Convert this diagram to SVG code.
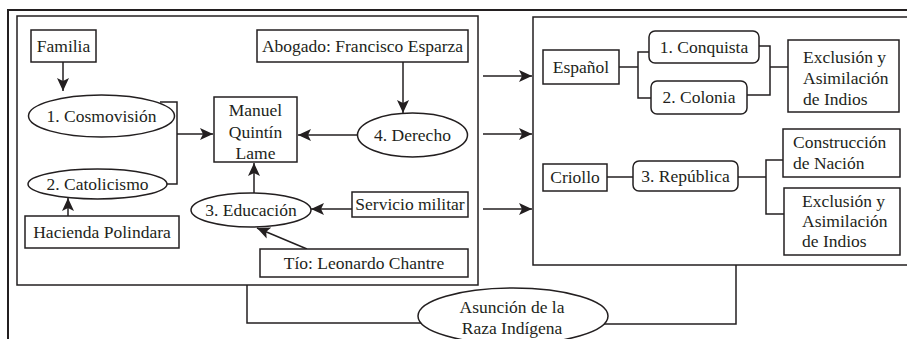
<svg xmlns="http://www.w3.org/2000/svg" width="907" height="339" viewBox="0 0 907 339">
<defs>
<marker id="ah" markerUnits="userSpaceOnUse" markerWidth="14" markerHeight="12" refX="13" refY="6" orient="auto">
<path d="M0,0 L13,6 L0,12 L3,6 Z" fill="#231f20"/>
</marker>
<style>
.b{fill:#fff;stroke:#231f20;stroke-width:1.5}
.f{fill:none;stroke:#231f20;stroke-width:2}
.c{fill:none;stroke:#231f20;stroke-width:1.5}
.a{fill:none;stroke:#231f20;stroke-width:1.5;marker-end:url(#ah)}
.t text{font-size:17.5px;fill:#231f20}
.m{text-anchor:middle}
</style>
</defs>
<rect width="907" height="339" fill="#fff"/>
<g id="frames">
<path class="f" d="M907,10 H8 V339"/>
<rect class="c" x="17" y="16" width="461" height="269" fill="none"/>
<path class="c" d="M910,17 H533 V265 H910"/>
</g>
<g id="connectors">
<line class="a" x1="63" y1="62" x2="63" y2="91"/>
<path class="c" d="M160,102 H177 V184 H164"/>
<line class="a" x1="177" y1="134" x2="213" y2="134"/>
<line class="a" x1="68" y1="216" x2="68" y2="198"/>
<line class="a" x1="403" y1="62" x2="403" y2="113"/>
<line class="a" x1="357" y1="135" x2="298" y2="135"/>
<line class="a" x1="254" y1="193" x2="254" y2="163"/>
<line class="a" x1="352" y1="209" x2="311" y2="209"/>
<line class="a" x1="307" y1="249" x2="257" y2="228"/>
<line class="a" x1="483" y1="76" x2="532" y2="76"/>
<line class="a" x1="483" y1="134" x2="532" y2="134"/>
<line class="a" x1="483" y1="209" x2="532" y2="209"/>
<path class="c" d="M247,285 V323 H423"/>
<path class="c" d="M602,324 H736 V265"/>
<path class="c" d="M619,67 H638"/>
<path class="c" d="M649,52 H638 V98 H651"/>
<path class="c" d="M759,46 H770 V95 H747"/>
<path class="c" d="M770,67 H788"/>
<path class="c" d="M607,177 H633"/>
<path class="c" d="M738,177 H766"/>
<path class="c" d="M783,160 H766 V214 H784"/>
</g>
<g class="t" font-family="'Liberation Serif', 'DejaVu Serif', serif">
<g id="familia"><rect class="b" x="31" y="30" width="65" height="32"/><text class="m" x="63.5" y="52">Familia</text></g>
<g id="abogado"><rect class="b" x="257" y="30" width="211" height="32"/><text class="m" x="362.5" y="52">Abogado: Francisco Esparza</text></g>
<g id="cosmovision"><ellipse class="b" cx="101.5" cy="116" rx="73" ry="21"/><text class="m" x="101.5" y="122">1. Cosmovisión</text></g>
<g id="catolicismo"><ellipse class="b" cx="97.5" cy="184" rx="69.5" ry="15"/><text class="m" x="97.5" y="190">2. Catolicismo</text></g>
<g id="hacienda"><rect class="b" x="25" y="216" width="154" height="32"/><text class="m" x="102" y="238">Hacienda Polindara</text></g>
<g id="manuel"><rect class="b" x="214" y="97" width="83" height="65"/><text class="m" x="255.5" y="116">Manuel</text><text class="m" x="255.5" y="137.5">Quintín</text><text class="m" x="255.5" y="159">Lame</text></g>
<g id="derecho"><ellipse class="b" cx="412.5" cy="135" rx="55" ry="22"/><text class="m" x="412.5" y="141">4. Derecho</text></g>
<g id="educacion"><ellipse class="b" cx="251" cy="210" rx="60" ry="17"/><text class="m" x="251" y="216">3. Educación</text></g>
<g id="servicio"><rect class="b" x="352" y="192" width="116" height="25"/><text class="m" x="410" y="210">Servicio militar</text></g>
<g id="tio"><rect class="b" x="260" y="249" width="208" height="28"/><text class="m" x="364" y="269">Tío: Leonardo Chantre</text></g>
<g id="asuncion"><ellipse class="b" cx="513" cy="316" rx="95" ry="28"/><text class="m" x="512" y="313">Asunción de la</text><text class="m" x="512" y="334">Raza Indígena</text></g>
<g id="espanol"><rect class="b" x="543" y="50" width="76" height="34"/><text class="m" x="581" y="73">Español</text></g>
<g id="conquista"><rect class="b" x="649" y="31" width="110" height="32" rx="6"/><text class="m" x="704" y="53">1. Conquista</text></g>
<g id="colonia"><rect class="b" x="651" y="81" width="96" height="33" rx="6"/><text class="m" x="699" y="103">2. Colonia</text></g>
<g id="exclusion1"><rect class="b" x="788" y="40" width="111" height="72"/><text x="803" y="63">Exclusión y</text><text x="803" y="84">Asimilación</text><text x="803" y="105">de Indios</text></g>
<g id="criollo"><rect class="b" x="543" y="164" width="64" height="27"/><text class="m" x="575" y="183">Criollo</text></g>
<g id="republica"><rect class="b" x="633" y="161" width="105" height="30" rx="6"/><text class="m" x="685.5" y="182">3. República</text></g>
<g id="construccion"><rect class="b" x="783" y="129" width="117" height="48"/><text x="793" y="148">Construcción</text><text x="793" y="169">de Nación</text></g>
<g id="exclusion2"><rect class="b" x="784" y="188" width="116" height="67"/><text x="802" y="207">Exclusión y</text><text x="802" y="227">Asimilación</text><text x="802" y="247">de Indios</text></g>
</g>
</svg>
